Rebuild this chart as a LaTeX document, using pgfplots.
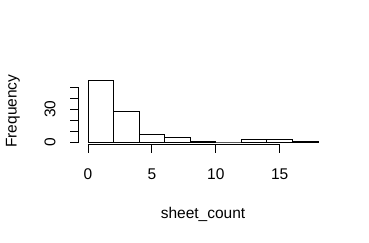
\documentclass[border=0pt]{standalone}
\usepackage{pgfplots}
\pgfplotsset{compat=1.18}
\usepackage{fontspec}
\setmainfont{Liberation Sans}
\begin{document}
\begin{tikzpicture}[font=\fontsize{15.5bp}{18bp}\selectfont]
\path[use as bounding box] (-88bp,-101bp) rectangle (281bp,142bp);
\begin{axis}[at={(0,0)}, anchor=south west, scale only axis,
  width=230bp, height=61.6bp, xmin=0, xmax=18, ymin=0, ymax=56,
  hide axis, clip=false]
\addplot[ybar interval, draw=black, fill=white, line width=0.8bp]
  coordinates {(0,56)(2,28)(4,7)(6,4)(8,1)(10,0)(12,2)(14,2)(16,1)(18,1)};
% x axis
\draw[line width=0.8bp] ([yshift=-2.5bp]axis cs:0,0) -- ([yshift=-2.5bp]axis cs:15,0);
\draw[line width=0.8bp] ([yshift=-2.5bp]axis cs:0,0) -- ++(0,-8.5bp);
\draw[line width=0.8bp] ([yshift=-2.5bp]axis cs:5,0) -- ++(0,-8.5bp);
\draw[line width=0.8bp] ([yshift=-2.5bp]axis cs:10,0) -- ++(0,-8.5bp);
\draw[line width=0.8bp] ([yshift=-2.5bp]axis cs:15,0) -- ++(0,-8.5bp);
\node[inner sep=0] at ([yshift=-32bp]axis cs:0,0) {0};
\node[inner sep=0] at ([yshift=-32bp]axis cs:5,0) {5};
\node[inner sep=0] at ([yshift=-32bp]axis cs:10,0) {10};
\node[inner sep=0] at ([yshift=-32bp]axis cs:15,0) {15};
\node[inner sep=0] at ([yshift=-72bp]axis cs:9,0) {sheet\_count};
% y axis
\draw[line width=0.8bp] ([xshift=-9.2bp]axis cs:0,0) -- ([xshift=-9.2bp]axis cs:0,50);
\draw[line width=0.8bp] ([xshift=-9.2bp]axis cs:0,0) -- ++(-8.5bp,0);
\draw[line width=0.8bp] ([xshift=-9.2bp]axis cs:0,10) -- ++(-8.5bp,0);
\draw[line width=0.8bp] ([xshift=-9.2bp]axis cs:0,20) -- ++(-8.5bp,0);
\draw[line width=0.8bp] ([xshift=-9.2bp]axis cs:0,30) -- ++(-8.5bp,0);
\draw[line width=0.8bp] ([xshift=-9.2bp]axis cs:0,40) -- ++(-8.5bp,0);
\draw[line width=0.8bp] ([xshift=-9.2bp]axis cs:0,50) -- ++(-8.5bp,0);
\node[inner sep=0, rotate=90] at ([xshift=-38bp]axis cs:0,0) {0};
\node[inner sep=0, rotate=90] at ([xshift=-38bp]axis cs:0,30) {30};
\node[inner sep=0, rotate=90] at ([xshift=-75bp]axis cs:0,28) {Frequency};
\end{axis}
\end{tikzpicture}
\end{document}
